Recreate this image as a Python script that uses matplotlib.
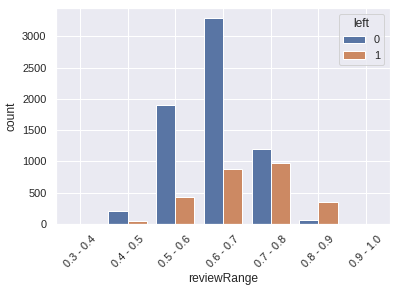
import matplotlib
matplotlib.use("Agg")
import matplotlib.pyplot as plt
import numpy as np
import seaborn as sns

sns.set_theme()
plt.rcParams['font.family'] = ['Liberation Sans', 'DejaVu Sans']

categories = ["0.3 - 0.4", "0.4 - 0.5", "0.5 - 0.6", "0.6 - 0.7", "0.7 - 0.8", "0.8 - 0.9", "0.9 - 1.0"]
left0 = [0, 213, 1904, 3287, 1202, 69, 0]
left1 = [0, 43, 436, 883, 978, 346, 0]
hue_labels = ["0", "1"]

W, H = 397, 291
fig = plt.figure(figsize=(W / 72, H / 72), dpi=72)
ax = fig.add_axes([56 / W, 1 - 224 / H, (390 - 56) / W, (224 - 8) / H])

pal = [sns.desaturate(c, 0.75) for c in sns.color_palette("deep")]
x = np.arange(len(categories))
w = 0.4
ax.bar(x - w / 2, left0, width=w, color=pal[0], edgecolor="white", linewidth=1, label=hue_labels[0])
ax.bar(x + w / 2, left1, width=w, color=pal[1], edgecolor="white", linewidth=1, label=hue_labels[1])

ax.set_xlim(-0.5, len(categories) - 0.5)
ax.set_ylim(0, max(left0) * 1.05)
ax.set_xticks(x)
ax.set_xticklabels(categories, rotation=45)
ax.set_xlabel("reviewRange")
ax.set_ylabel("count")
ax.legend(title="left", loc="upper right")

fig.savefig("out.png", dpi=72)
